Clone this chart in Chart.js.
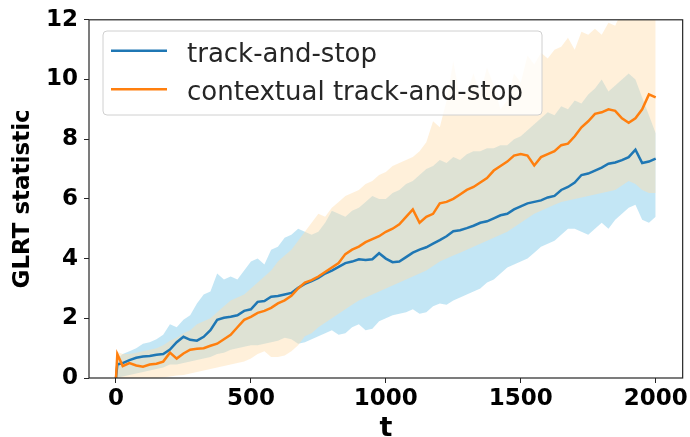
<!DOCTYPE html>
<html>
<head>
<meta charset="utf-8">
<script src="https://cdn.jsdelivr.net/npm/chart.js@4.4.0/dist/chart.umd.min.js"></script>
<style>
  html, body { margin: 0; padding: 0; background: #fff; }
  #wrap { width: 690px; height: 437px; }
</style>
</head>
<body>
<div id="wrap"><canvas id="glrtChart" width="690" height="437"></canvas></div>
<script>
// time steps for the mean curves
const T_MEAN = [0, 5, 25, 50, 75, 100, 125, 150, 175, 200, 225, 250, 275, 300, 325, 350, 375, 400, 425, 450, 475,
  500, 525, 550, 575, 600, 625, 650, 675, 700, 725, 750, 775, 800, 825, 850, 875, 900, 925, 950, 975,
  1000, 1025, 1050, 1075, 1100, 1125, 1150, 1175, 1200, 1225, 1250, 1275, 1300, 1325, 1350, 1375, 1400, 1425, 1450, 1475,
  1500, 1525, 1550, 1575, 1600, 1625, 1650, 1675, 1700, 1725, 1750, 1775, 1800, 1825, 1850, 1875, 1900, 1925, 1950, 1975, 2000];

const TAS_MEAN = [0, 0.45, 0.5, 0.6, 0.68, 0.72, 0.74, 0.78, 0.8, 0.95, 1.2, 1.38, 1.28, 1.25, 1.38, 1.6, 1.95, 2.02, 2.05, 2.1, 2.25,
  2.3, 2.55, 2.58, 2.72, 2.75, 2.8, 2.85, 3.02, 3.15, 3.25, 3.35, 3.5, 3.6, 3.72, 3.85, 3.9, 3.98, 3.95, 3.98, 4.18,
  4.0, 3.88, 3.9, 4.05, 4.2, 4.3, 4.38, 4.5, 4.62, 4.75, 4.92, 4.95, 5.02, 5.1, 5.2, 5.25, 5.35, 5.45, 5.5, 5.65,
  5.75, 5.85, 5.9, 5.95, 6.05, 6.1, 6.3, 6.4, 6.55, 6.8, 6.85, 6.95, 7.05, 7.18, 7.22, 7.3, 7.4, 7.65, 7.2, 7.25, 7.35];

const CTAS_MEAN = [0, 0.8, 0.4, 0.5, 0.42, 0.38, 0.45, 0.48, 0.55, 0.85, 0.65, 0.82, 0.95, 0.98, 1.0, 1.08, 1.15, 1.3, 1.45, 1.7, 1.95,
  2.05, 2.18, 2.25, 2.35, 2.5, 2.6, 2.75, 3.0, 3.2, 3.28, 3.4, 3.55, 3.7, 3.85, 4.15, 4.3, 4.4, 4.55, 4.65, 4.75,
  4.9, 5.0, 5.15, 5.4, 5.65, 5.2, 5.4, 5.5, 5.85, 5.9, 6.0, 6.15, 6.3, 6.4, 6.55, 6.7, 6.95, 7.1, 7.25, 7.45,
  7.5, 7.45, 7.12, 7.4, 7.5, 7.6, 7.8, 7.85, 8.1, 8.4, 8.6, 8.85, 8.9, 9.0, 8.95, 8.7, 8.55, 8.7, 9.0, 9.5, 9.4];

// time steps for the shaded bands
const T_BAND = [0, 25, 50, 75, 100, 125, 150, 175, 200, 225, 250, 275, 300, 325, 350, 375, 400, 425, 450, 475,
  500, 525, 550, 575, 600, 625, 650, 675, 700, 725, 750, 775, 800, 825, 850, 875, 900, 925, 950, 975,
  1000, 1025, 1050, 1075, 1100, 1125, 1150, 1175, 1200, 1225, 1250, 1275, 1300, 1325, 1350, 1375, 1400, 1425, 1450, 1475,
  1500, 1525, 1550, 1575, 1600, 1625, 1650, 1675, 1700, 1725, 1750, 1775, 1800, 1825, 1850, 1875, 1900, 1925, 1950, 1975, 2000];

const TAS_UPPER = [0.6, 0.8, 0.9, 1.0, 1.15, 1.2, 1.3, 1.45, 1.8, 1.7, 1.95, 2.1, 2.5, 2.8, 2.9, 3.5, 3.3, 3.4, 3.3, 3.6,
  3.9, 4.0, 3.8, 4.3, 4.4, 4.7, 4.8, 5.0, 4.9, 4.8, 4.9, 5.2, 5.6, 5.5, 5.4, 5.6, 5.7, 5.9, 6.1, 6.0,
  6.0, 6.2, 6.3, 6.5, 6.6, 6.8, 7.0, 7.1, 7.3, 7.2, 7.4, 7.3, 7.5, 7.6, 7.6, 7.7, 7.7, 7.8, 7.8, 8.0,
  8.1, 8.3, 8.5, 8.7, 8.9, 8.8, 9.1, 9.0, 9.3, 9.2, 9.5, 9.7, 10.0, 9.6, 9.8, 10.0, 10.2, 10.0, 9.4, 8.8, 8.2];
const TAS_LOWER = [0, 0.05, 0.1, 0.15, 0.2, 0.25, 0.3, 0.35, 0.45, 0.45, 0.5, 0.55, 0.6, 0.65, 0.7, 0.8, 0.85, 0.95, 1.0, 1.05,
  1.1, 1.1, 1.15, 1.2, 1.25, 1.35, 1.3, 1.15, 1.2, 1.3, 1.4, 1.5, 1.6, 1.45, 1.5, 1.7, 1.8, 1.6, 1.65, 1.9,
  2.0, 2.1, 2.15, 2.2, 2.3, 2.15, 2.2, 2.4, 2.5, 2.45, 2.6, 2.7, 2.8, 2.9, 3.0, 3.2, 3.3, 3.5, 3.7, 3.8,
  3.9, 4.0, 4.2, 4.4, 4.5, 4.6, 4.8, 5.0, 5.0, 4.9, 4.8, 5.0, 5.2, 5.0, 5.3, 5.5, 5.7, 5.8, 5.3, 5.2, 5.4];
const CTAS_UPPER = [0.9, 0.8, 0.8, 0.85, 0.9, 0.95, 1.0, 1.1, 1.25, 1.35, 1.5, 1.6, 1.8, 1.9, 2.0, 2.2, 2.4, 2.6, 2.7, 2.8,
  3.0, 3.2, 3.4, 3.6, 3.9, 4.1, 4.3, 4.6, 4.9, 5.2, 5.5, 5.4, 5.7, 5.9, 6.1, 6.2, 6.3, 6.5, 6.6, 6.8,
  6.9, 7.1, 7.2, 7.3, 7.4, 7.6, 7.9, 8.6, 8.4, 9.3, 10.6, 9.4, 9.6, 10.2, 9.5, 10.4, 9.8, 9.0, 9.3, 10.2,
  9.9, 10.8, 10.5, 10.9, 10.7, 11.0, 11.1, 11.4, 11.0, 11.6, 11.5, 11.7, 11.5, 11.9, 11.8, 12.3, 12.4, 12.5, 12.6, 12.7, 12.8];
const CTAS_LOWER = [0, 0, 0, 0, 0, 0, 0, 0.02, 0.05, 0.08, 0.1, 0.15, 0.2, 0.25, 0.3, 0.35, 0.4, 0.45, 0.5, 0.55,
  0.65, 0.8, 0.9, 0.7, 0.7, 0.75, 0.9, 1.1, 1.4, 1.5, 1.7, 1.85, 2.0, 2.15, 2.3, 2.45, 2.6, 2.7, 2.8, 2.9,
  3.0, 3.1, 3.2, 3.3, 3.4, 3.5, 3.6, 3.75, 3.9, 4.0, 4.1, 4.2, 4.3, 4.4, 4.5, 4.6, 4.7, 4.8, 4.9, 5.05,
  5.2, 5.35, 5.5, 5.6, 5.7, 5.8, 5.9, 5.95, 6.0, 6.05, 6.1, 6.15, 6.2, 6.25, 6.3, 6.45, 6.6, 6.5, 6.3, 6.2, 6.2];

const X_TICKS = [0, 500, 1000, 1500, 2000];
const Y_TICKS = [0, 2, 4, 6, 8, 10, 12];
const LEGEND_LABELS = ["track-and-stop", "contextual track-and-stop"];

const BLUE = "#1f77b4";
const ORANGE = "#ff7f0e";

function pts(xs, ys) {
    return xs.map((x, i) => ({ x: x, y: ys[i] }));
}

// frame around the plot + legend box, drawn like matplotlib
const framePlugin = {
    id: "frame",
    afterDatasetsDraw(chart) {
        const { ctx, chartArea: a } = chart;
        ctx.save();
        ctx.strokeStyle = "#262626";
        ctx.lineWidth = 1.2;
        ctx.strokeRect(a.left, a.top, a.right - a.left, a.bottom - a.top);

        // legend
        const x0 = 103, y0 = 31, w = 439, h = 84, r = 4;
        ctx.beginPath();
        ctx.moveTo(x0 + r, y0);
        ctx.arcTo(x0 + w, y0, x0 + w, y0 + h, r);
        ctx.arcTo(x0 + w, y0 + h, x0, y0 + h, r);
        ctx.arcTo(x0, y0 + h, x0, y0, r);
        ctx.arcTo(x0, y0, x0 + w, y0, r);
        ctx.closePath();
        ctx.fillStyle = "rgba(255,255,255,0.8)";
        ctx.fill();
        ctx.strokeStyle = "#d0d0d0";
        ctx.lineWidth = 1;
        ctx.stroke();

        const rows = [[BLUE, 50.7, 61.5], [ORANGE, 89.3, 100.3]];
        ctx.font = "26px 'DejaVu Sans'";
        ctx.textBaseline = "alphabetic";
        ctx.textAlign = "left";
        rows.forEach((row, i) => {
            ctx.strokeStyle = row[0];
            ctx.lineWidth = 2.5;
            ctx.beginPath();
            ctx.moveTo(111, row[1]);
            ctx.lineTo(167, row[1]);
            ctx.stroke();
            ctx.fillStyle = "#262626";
            ctx.fillText(LEGEND_LABELS[i], 187, row[2]);
        });
        ctx.restore();
    }
};

Chart.defaults.font.family = "'DejaVu Sans'";
Chart.defaults.color = "#000";

const ctx = document.getElementById("glrtChart").getContext("2d");
const glrtChart = new Chart(ctx, {
    type: "line",
    data: {
        datasets: [
            {
                label: LEGEND_LABELS[1],
                data: pts(T_MEAN, CTAS_MEAN),
                borderColor: ORANGE,
                borderWidth: 2.5,
                pointRadius: 0,
                fill: false
            },
            {
                label: LEGEND_LABELS[0],
                data: pts(T_MEAN, TAS_MEAN),
                borderColor: BLUE,
                borderWidth: 2.5,
                pointRadius: 0,
                fill: false
            },
            {
                label: "ctas upper",
                data: pts(T_BAND, CTAS_UPPER),
                borderWidth: 0,
                pointRadius: 0,
                backgroundColor: "rgba(255, 222, 173, 0.45)",
                fill: "+1"
            },
            {
                label: "ctas lower",
                data: pts(T_BAND, CTAS_LOWER),
                borderWidth: 0,
                pointRadius: 0,
                fill: false
            },
            {
                label: "tas upper",
                data: pts(T_BAND, TAS_UPPER),
                borderWidth: 0,
                pointRadius: 0,
                backgroundColor: "rgba(135, 206, 235, 0.5)",
                fill: "+1"
            },
            {
                label: "tas lower",
                data: pts(T_BAND, TAS_LOWER),
                borderWidth: 0,
                pointRadius: 0,
                fill: false
            }
        ]
    },
    options: {
        responsive: false,
        animation: false,
        devicePixelRatio: 1,
        layout: { padding: { left: 0, right: 7, top: 17, bottom: 0 } },
        plugins: {
            legend: { display: false },
            tooltip: { enabled: false }
        },
        scales: {
            x: {
                type: "linear",
                min: -100,
                max: 2100,
                afterBuildTicks: (scale) => { scale.ticks = X_TICKS.map(v => ({ value: v })); },
                afterFit: (scale) => { scale.height = 59; },
                grid: { display: true, drawOnChartArea: false, drawTicks: true, tickLength: 5, color: "#262626" },
                border: { display: false },
                ticks: { font: { size: 23, weight: "bold" }, padding: 2, maxRotation: 0, callback: (v) => String(v) },
                title: {
                    display: true,
                    text: "t",
                    font: { size: 27, weight: "bold", lineHeight: 1 },
                    padding: { top: 0, bottom: -5 }
                }
            },
            y: {
                min: 0,
                max: 12,
                afterBuildTicks: (scale) => { scale.ticks = Y_TICKS.map(v => ({ value: v })); },
                afterFit: (scale) => { scale.width = 89; },
                grid: { display: true, drawOnChartArea: false, drawTicks: true, tickLength: 5, color: "#262626" },
                border: { display: false },
                ticks: { font: { size: 23, weight: "bold" }, padding: 6, callback: (v) => String(v) },
                title: {
                    display: true,
                    text: "GLRT statistic",
                    font: { size: 23, weight: "bold" },
                    padding: { top: 9, bottom: 0 }
                }
            }
        }
    },
    plugins: [framePlugin]
});
</script>
</body>
</html>
